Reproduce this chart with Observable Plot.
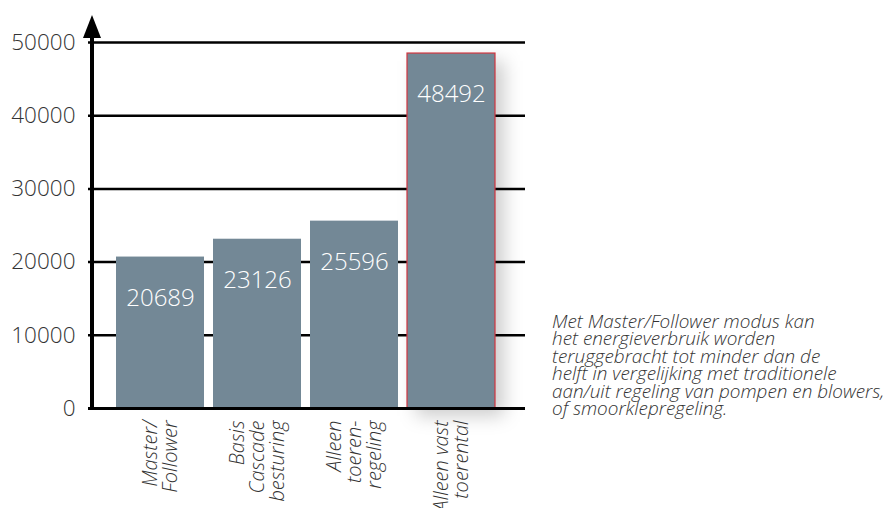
<!DOCTYPE html>
<html><head><meta charset="utf-8">
<script src="https://cdn.jsdelivr.net/npm/d3@7"></script>
<script src="https://cdn.jsdelivr.net/npm/@observablehq/plot@0.6"></script>
<style>
body{margin:0;background:#fff;}
#wrap{position:relative;width:886px;height:508px;overflow:hidden;}
#caption{position:absolute;left:552px;top:313px;font-family:"Open Sans",sans-serif;font-style:italic;font-weight:300;font-size:18.9px;line-height:17.4px;color:#333;white-space:nowrap;}
</style></head><body>
<div id="wrap"><div id="chart"></div><div id="caption"></div></div>
<script>
const categories = ["Master/\nFollower", "Basis\nCascade\nbesturing", "Alleen\ntoeren-\nregeling", "Alleen vast\ntoerental"];
const values = [20689, 23126, 25596, 48492];
const yTicks = [0, 10000, 20000, 30000, 40000, 50000];
const highlighted = ["Alleen vast\ntoerental"];
const captionLines = [
  "Met Master/Follower modus kan",
  "het energieverbruik worden",
  "teruggebracht tot minder dan de",
  "helft in vergelijking met traditionele",
  "aan/uit regeling van pompen en blowers,",
  "of smoorklepregeling."
];

const data = categories.map((c, i) => ({category: c, value: values[i]}));
const isHl = d => highlighted.includes(d.category);

function axisArrow(index, scales, vals, dims) {
  const g = d3.create("svg:g");
  const x = dims.marginLeft;
  const y0 = scales.y(0);
  const tipY = scales.y(50000) - 27;
  const baseY = tipY + 23;
  g.append("line").attr("x1", x).attr("x2", x).attr("y1", y0 + 1.5).attr("y2", baseY - 2)
    .attr("stroke", "#000").attr("stroke-width", 4);
  g.append("path").attr("d", `M${x - 9},${baseY}L${x},${tipY}L${x + 9},${baseY}Z`).attr("fill", "#000");
  return g.node();
}

const plot = Plot.plot({
  width: 886, height: 508,
  marginLeft: 92, marginRight: 361, marginTop: 42, marginBottom: 100,
  style: {fontFamily: "'Open Sans', sans-serif", background: "transparent", overflow: "visible"},
  x: {domain: categories, range: [115, 495], paddingInner: 0.093, paddingOuter: 0, axis: null},
  y: {domain: [0, 50000], axis: null},
  marks: [
    Plot.barY(data.filter(isHl), {x: "category", y: "value", fill: "#000", fillOpacity: 0.2, dx: 9, dy: 8}),
    Plot.ruleY(yTicks.filter(d => d > 0), {stroke: "#000", strokeWidth: 2.5, insetLeft: -4}),
    Plot.barY(data.filter(d => !isHl(d)), {x: "category", y: "value", fill: "#738896"}),
    Plot.barY(data.filter(isHl), {x: "category", y: "value", fill: "#738896", stroke: "#d0343e", strokeWidth: 1.2}),
    Plot.ruleY([0], {stroke: "#000", strokeWidth: 3, insetLeft: -4}),
    Plot.text(data, {x: "category", y: "value", text: d => String(d.value), dy: 41, fill: "#fff", fontSize: 24, fontWeight: 300}),
    Plot.text(data, {x: "category", y: 0, text: "category", rotate: -90, textAnchor: "end", lineAnchor: "middle",
      dy: 12, fontSize: 20, fontStyle: "italic", fontWeight: 300, lineHeight: 1.0, fill: "#333"}),
    Plot.axisY(yTicks, {tickSize: 0, tickPadding: 17, fontSize: 22.5, fontWeight: 300, tickFormat: d3.format("d"), fill: "#333", label: null}),
    axisArrow
  ]
});

const ns = "http://www.w3.org/2000/svg";
const defs = document.createElementNS(ns, "defs");
const filt = document.createElementNS(ns, "filter");
filt.setAttribute("id", "shadowblur");
filt.setAttribute("filterUnits", "userSpaceOnUse");
filt.setAttribute("x", "300"); filt.setAttribute("y", "0");
filt.setAttribute("width", "300"); filt.setAttribute("height", "508");
const blur = document.createElementNS(ns, "feGaussianBlur");
blur.setAttribute("stdDeviation", "9");
filt.appendChild(blur); defs.appendChild(filt);
plot.insertBefore(defs, plot.firstChild);
const sh = plot.querySelector('g[aria-label="bar"]');
if (sh) sh.setAttribute("filter", "url(#shadowblur)");
document.getElementById("chart").appendChild(plot);
document.getElementById("caption").innerHTML = captionLines.join("<br>");
</script>
</body></html>
